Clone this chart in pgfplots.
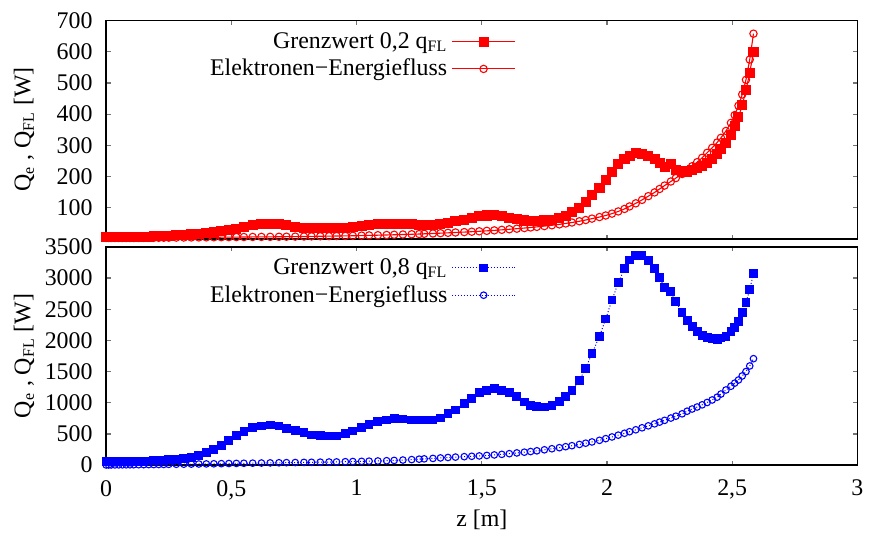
\documentclass[border=0pt]{standalone}
\usepackage{fontspec}
\setmainfont{Liberation Serif}
\usepackage{pgfplots}
\pgfplotsset{compat=1.18}
\usepackage{pgfplotstable}
\pgfplotsset{legend image code/.code={\draw[mark repeat=2,mark phase=2,#1] plot coordinates {(0pt,0pt) (16pt,0pt) (32pt,0pt)};}}

\pgfplotstableread{
z a b
0 5 3
0.01 5 3
0.02 5 3
0.035 5 3
0.05 5 3
0.065 5 3
0.08 5.5 3
0.095 6 3
0.11 6 3
0.13 6.5 3.2
0.15 7 3.3
0.17 7.5 3.4
0.19 8 3.5
0.21 8.5 3.6
0.23 9 3.8
0.25 10 4
0.28 11 4.2
0.31 12.5 4.4
0.34 14 4.6
0.37 17 4.8
0.40 19.5 5
0.43 22 5.2
0.46 25 5.4
0.49 28 5.6
0.52 33 5.8
0.55 39 6
0.585 44 6.2
0.62 47 6.4
0.655 48 6.6
0.69 47.5 6.8
0.72 43 7
0.755 38 7.3
0.79 35 7.6
0.82 34 8
0.855 34 8.4
0.89 34 8.8
0.92 34.5 9.2
0.955 36 9.6
0.985 38 10
1.02 42 10.6
1.05 46 11.2
1.085 48 11.8
1.12 48 12.5
1.15 48 13.2
1.185 48 14
1.22 48 14.8
1.25 46 15.6
1.27 43 16.3
1.305 46 17.3
1.335 47.5 18.3
1.365 51 19.4
1.395 56 20.5
1.43 61 21.8
1.46 66 23
1.49 72 24.3
1.52 75 25.8
1.55 75.5 27.3
1.58 72 29
1.61 68 30.8
1.64 63 32.7
1.67 59 34.7
1.695 57 36.6
1.72 57 38.6
1.75 59 41
1.78 62 43.6
1.81 66 46.5
1.835 73 49.5
1.86 87 52.5
1.89 100 56.5
1.915 119 60.5
1.94 140 65
1.97 163 70
1.995 188 75
2.02 214 81
2.045 239 88
2.07 255 96
2.09 267 104
2.115 275 114
2.14 272 125
2.165 265 137
2.19 255 149
2.21 244 160
2.23 230 171
2.255 239 184
2.275 220 195
2.30 216 208
2.32 216 220
2.34 221 233
2.36 227 246
2.38 235 260
2.40 243 276
2.42 255 292
2.44 272 309
2.455 289 324
2.475 307 346
2.495 332 372
2.51 361 397
2.525 390 427
2.54 429 463
2.555 476 510
2.57 533 575
2.585 599 658
}\toptable

\pgfplotstableread{
z c d
0 55 3
0.01 55 3
0.02 55 3.5
0.035 55 4
0.05 55 4.5
0.065 55 5
0.08 56 5.5
0.095 57 6
0.11 58 6.5
0.13 60 7
0.15 63 8
0.17 66 9
0.19 70 9.5
0.21 74 10.5
0.23 78 11.5
0.25 85 12.5
0.28 93 14
0.31 106 15.5
0.34 125 17
0.37 160 18.5
0.40 205 20
0.43 250 22
0.46 320 24
0.49 400 26
0.52 470 28
0.55 545 30
0.585 600 32
0.62 628 34
0.655 644 36
0.69 628 38
0.72 592 40
0.755 558 42
0.79 522 44
0.82 485 46
0.855 470 48
0.89 469 50
0.92 469 52
0.955 506 55
0.985 548 58
1.02 601 61
1.05 650 64
1.085 697 67
1.12 724 71
1.15 745 76
1.185 740 82
1.22 724 89
1.25 724 96
1.27 724 101
1.305 724 108
1.335 756 116
1.365 824 123
1.395 883 129
1.43 984 136
1.46 1064 142
1.49 1160 148
1.52 1202 156
1.55 1223 164
1.58 1202 173
1.61 1160 184
1.64 1096 196
1.67 1011 208
1.695 958 218
1.72 935 230
1.75 931 246
1.78 958 263
1.81 1016 280
1.835 1096 296
1.86 1202 312
1.89 1360 332
1.915 1555 352
1.94 1790 372
1.97 2064 398
1.995 2345 425
2.02 2648 452
2.045 2925 481
2.07 3150 511
2.09 3290 536
2.115 3366 567
2.14 3366 599
2.165 3277 630
2.19 3154 662
2.21 3005 690
2.23 2846 718
2.255 2782 755
2.275 2622 785
2.30 2447 823
2.32 2319 865
2.34 2223 900
2.36 2144 932
2.38 2080 967
2.40 2048 1005
2.42 2032 1045
2.44 2016 1090
2.455 2037 1140
2.475 2064 1205
2.495 2144 1265
2.51 2207 1315
2.525 2303 1365
2.54 2447 1430
2.555 2606 1500
2.57 2814 1590
2.585 3069 1707
}\bottable

\begin{document}
\begin{tikzpicture}
\pgfplotsset{
  panel/.style={
    scale only axis, width=377.5pt, height=109.7pt,
    xmin=0, xmax=3, xtick={0,0.5,1,1.5,2,2.5,3},
    tick align=inside, major tick length=2.2pt,
    major tick style={line width=0.6pt, black!55},
    axis line style={line width=0.8pt},
    font=\fontsize{12}{14}\selectfont,
    /pgf/number format/assume math mode=true,
    /pgf/number format/1000 sep={},
    clip=false,
    legend cell align=right, legend plot pos=right,
    legend style={draw=none, fill=none, at={(0.554,0.985)}, anchor=north east,
      font=\fontsize{12}{14}\selectfont, row sep=0pt},
    ylabel={Q\textsubscript{e} , Q\textsubscript{FL} [W]},
    ylabel style={at={(axis description cs:-0.1095,0.5)}, anchor=center},
    yticklabel style={xshift=-3.3pt},
    xticklabel style={yshift=-4pt},
  }
}
\begin{axis}[panel, name=bot, at={(0pt,0pt)},
  ymin=0, ymax=3500, ytick={0,500,1000,1500,2000,2500,3000,3500},
  xticklabels={0,{0,5},1,{1,5},2,{2,5},3},
  xlabel={z [m]},
  xlabel style={at={(axis description cs:0.5,-0.2525)}, anchor=center}]
\addplot[blue, densely dotted, line width=0.5pt, mark=square*, mark size=1.95pt, mark options={solid, fill=blue}] table[x=z, y=c] {\bottable};
\addlegendentry{Grenzwert 0,8 q\textsubscript{FL}}
\addplot[blue, densely dotted, line width=0.5pt, mark=o, mark size=1.65pt, mark options={solid, line width=0.55pt}] table[x=z, y=d] {\bottable};
\addlegendentry{Elektronen−Energiefluss}
\end{axis}
\begin{axis}[panel, name=top, at={(0pt,113.7pt)},
  ymin=0, ymax=700, ytick={100,200,300,400,500,600,700},
  xticklabels={}]
\addplot[red, line width=0.55pt, mark=square*, mark size=2.25pt, mark options={solid, fill=red}] table[x=z, y=a] {\toptable};
\addlegendentry{Grenzwert 0,2 q\textsubscript{FL}}
\addplot[red, line width=0.55pt, mark=o, mark size=1.85pt, mark options={solid}] table[x=z, y=b] {\toptable};
\addlegendentry{Elektronen−Energiefluss}
\end{axis}
\path[use as bounding box] ([shift={(-53.35pt,-34.15pt)}]bot.south west) rectangle ([shift={(4.15pt,10.35pt)}]top.north east);
\end{tikzpicture}
\end{document}
